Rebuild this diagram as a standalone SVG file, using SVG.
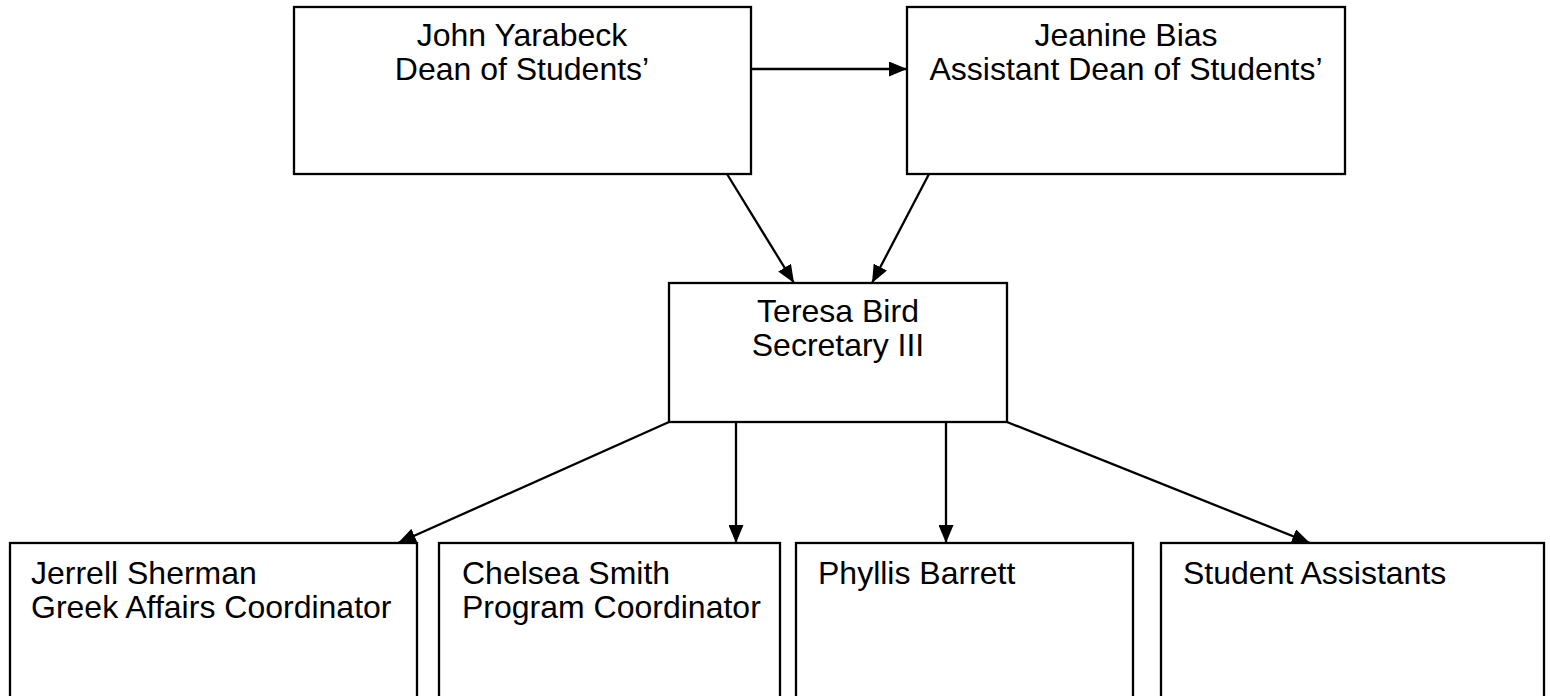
<svg xmlns="http://www.w3.org/2000/svg" width="1550" height="696" viewBox="0 0 1550 696">
<style>
.box{fill:#fff;stroke:#000;stroke-width:2.3}
.t{font-family:"Liberation Sans",Arial,sans-serif;font-size:32px;fill:#000}
.c{text-anchor:middle}
.conn line{stroke:#000;stroke-width:2.3;marker-end:url(#ah)}
</style>
<defs>
<marker id="ah" viewBox="0 0 18 15" refX="18" refY="7.5" markerWidth="18" markerHeight="15" markerUnits="userSpaceOnUse" orient="auto">
<path d="M0,0 L18,7.5 L0,15 z" fill="#000"/>
</marker>
</defs>
<rect width="1550" height="696" fill="#fff"/>
<g id="n-yarabeck">
<rect class="box" x="294" y="7" width="457" height="167"/>
<text class="t c" x="522" y="46">John Yarabeck</text>
<text class="t c" x="522" y="80">Dean of Students’</text>
</g>
<g id="n-bias">
<rect class="box" x="907" y="7" width="438" height="167"/>
<text class="t c" x="1126" y="46">Jeanine Bias</text>
<text class="t c" x="1126" y="80">Assistant Dean of Students’</text>
</g>
<g id="n-bird">
<rect class="box" x="669" y="283" width="338" height="139"/>
<text class="t c" x="838" y="322">Teresa Bird</text>
<text class="t c" x="838" y="356">Secretary III</text>
</g>
<g id="n-sherman">
<rect class="box" x="10" y="543" width="407" height="180"/>
<text class="t" x="31" y="584">Jerrell Sherman</text>
<text class="t" x="31" y="618">Greek Affairs Coordinator</text>
</g>
<g id="n-smith">
<rect class="box" x="439" y="543" width="341" height="180"/>
<text class="t" x="462" y="584">Chelsea Smith</text>
<text class="t" x="462" y="618">Program Coordinator</text>
</g>
<g id="n-barrett">
<rect class="box" x="796" y="543" width="337" height="180"/>
<text class="t" x="818" y="584">Phyllis Barrett</text>
</g>
<g id="n-students">
<rect class="box" x="1161" y="543" width="383" height="180"/>
<text class="t" x="1183" y="584">Student Assistants</text>
</g>
<g id="connectors" class="conn">
<line x1="751" y1="69" x2="907" y2="69"/>
<line x1="727" y1="174" x2="794" y2="283"/>
<line x1="929" y1="174" x2="872" y2="283"/>
<line x1="669" y1="422" x2="398" y2="543"/>
<line x1="736" y1="422" x2="736" y2="543"/>
<line x1="946" y1="422" x2="946" y2="543"/>
<line x1="1007" y1="422" x2="1310" y2="543"/>
</g>
</svg>
